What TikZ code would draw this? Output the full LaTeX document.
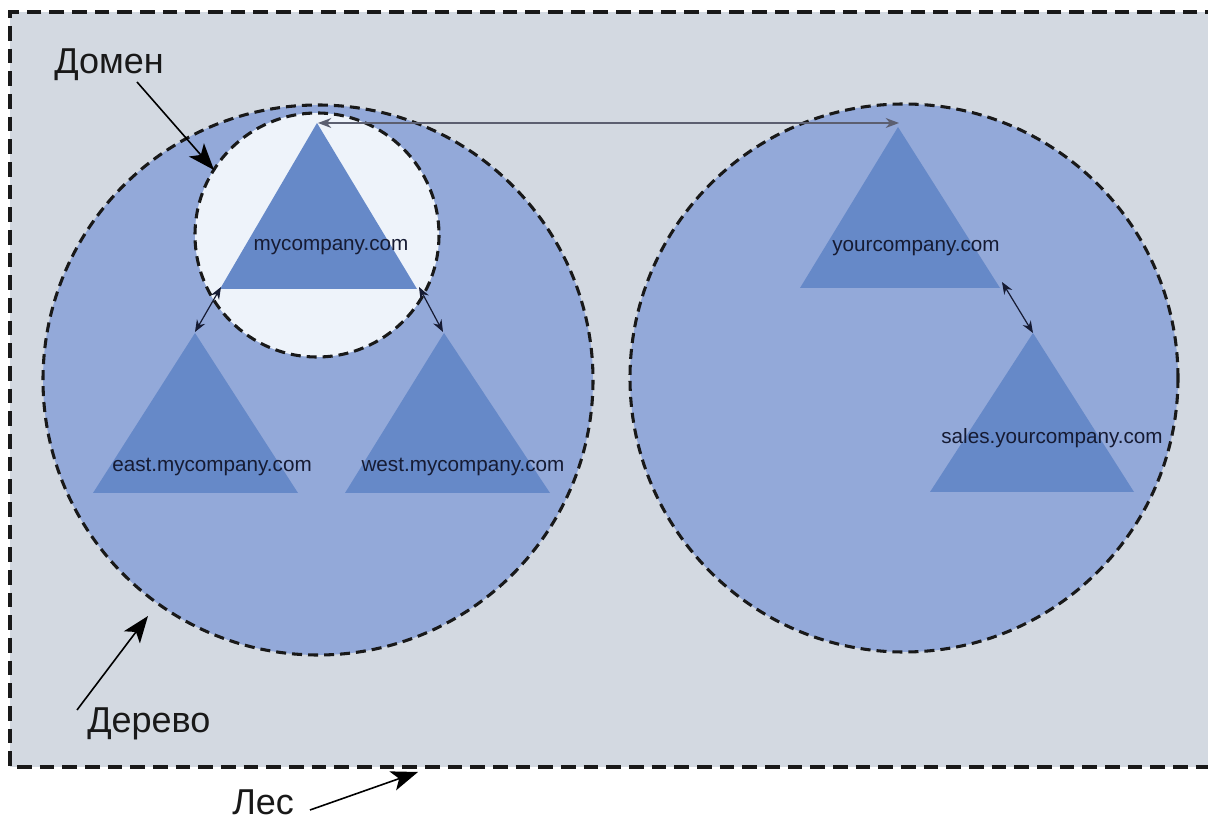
\documentclass[tikz,border=0pt]{standalone}
\usepackage{fontspec}
\setmainfont{Liberation Sans}
\usetikzlibrary{arrows.meta}
\definecolor{forestfill}{HTML}{D3D9E1}
\definecolor{treefill}{HTML}{93A9D9}
\definecolor{domfill}{HTML}{EEF3FA}
\definecolor{trifill}{HTML}{6689C8}
\definecolor{ink}{HTML}{161B33}
\begin{document}
\begin{tikzpicture}[x=0.75pt,y=-0.75pt,
  dashline/.style={draw=black!90, line width=2.3pt, dash pattern=on 7.5pt off 4.5pt},
  forestline/.style={draw=black!90, line width=2.5pt, dash pattern=on 11pt off 6pt},
  tritext/.style={text=ink, font=\fontsize{15.5}{18}\selectfont, inner sep=0pt},
  bigtext/.style={text=black!90, font=\fontsize{27}{30}\selectfont, inner sep=0pt},
  link/.style={draw=ink, line width=0.9pt, {Stealth[length=9pt,width=7pt]}-{Stealth[length=9pt,width=7pt]}},
  toplink/.style={draw=ink!70, line width=1.1pt, {Stealth[length=10pt,width=7.5pt]}-{Stealth[length=10pt,width=7.5pt]}},
  pointer/.style={draw=black, line width=1.2pt, -{Stealth[length=20pt,width=15pt,inset=5pt]}},
  trishape/.style={fill=trifill}]
\clip (0,0) rectangle (1208,823);
\fill[white] (0,0) rectangle (1208,823);
% forest
\fill[forestfill] (10,12) rectangle (1220,767);
\draw[forestline] (1220,12) -- (10,12) -- (10,767) -- (1220,767);
% trees
\fill[treefill] (318,380) circle (275);
\fill[treefill] (904,378) circle (274);
% domain
\fill[domfill] (317,235) circle (122);
% triangle coordinates
\coordinate (mA) at (317,123); \coordinate (mL) at (220,289); \coordinate (mR) at (417,289);
\coordinate (eA) at (195,333); \coordinate (eL) at (93,493);  \coordinate (eR) at (298,493);
\coordinate (wA) at (444,333); \coordinate (wL) at (345,493); \coordinate (wR) at (550,493);
\coordinate (yA) at (898,127); \coordinate (yL) at (800,288); \coordinate (yR) at (1000,288);
\coordinate (sA) at (1033,333);\coordinate (sL) at (930,492); \coordinate (sR) at (1134,492);
\fill[trishape] (mA) -- (mL) -- (mR) -- cycle;
\fill[trishape] (eA) -- (eL) -- (eR) -- cycle;
\fill[trishape] (wA) -- (wL) -- (wR) -- cycle;
\fill[trishape] (yA) -- (yL) -- (yR) -- cycle;
\fill[trishape] (sA) -- (sL) -- (sR) -- cycle;
% outlines
\draw[dashline] (318,380) circle (275);
\draw[dashline] (904,378) circle (274);
\draw[dashline] (317,235) circle (122);
% texts
\node[tritext] (tm) at (331,247) {mycompany.com};
\node[tritext] (te) at (212,467) {east.mycompany.com};
\node[tritext] (tw) at (463,467) {west.mycompany.com};
\node[tritext] (ty) at (916,248) {yourcompany.com};
\node[tritext] (ts) at (1052,438) {sales.yourcompany.com};
% links
\coordinate (t1) at (318,123); \coordinate (t2) at (899,123);
\draw[toplink] (t1) -- (t2);
\coordinate (l1) at (221,287); \coordinate (l2) at (195,332);
\draw[link] (l1) -- (l2);
\coordinate (r1) at (419,287); \coordinate (r2) at (443,332);
\draw[link] (r1) -- (r2);
\coordinate (y1) at (1002,282); \coordinate (y2) at (1033,333);
\draw[link] (y1) -- (y2);
% labels
\node[bigtext, anchor=base west] (dom) at (54,74) {Домен};
\node[bigtext, anchor=base west] (der) at (87,732) {Дерево};
\node[bigtext, anchor=base west] (les) at (232,814) {Лес};
\coordinate (domtip) at (214,170);
\coordinate (dertip) at (148,616);
\coordinate (lestip) at (418,772);
\draw[pointer] (137,82) -- (domtip);
\draw[pointer] (77,710) -- (dertip);
\draw[pointer] (310,810) -- (lestip);
\end{tikzpicture}
\end{document}
